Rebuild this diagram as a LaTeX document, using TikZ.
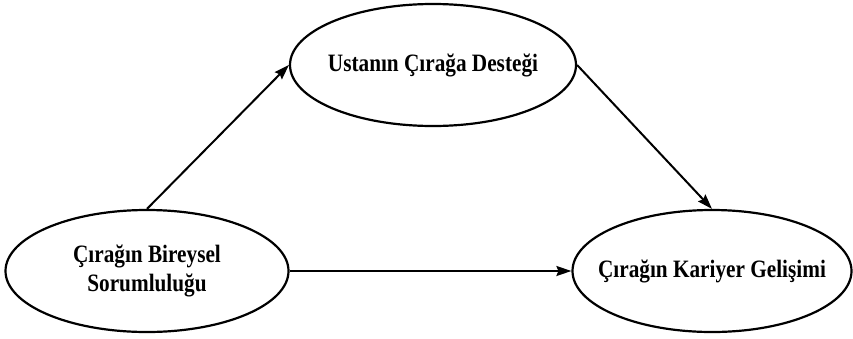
\documentclass[tikz,border=0pt]{standalone}
\usepackage{fontspec}
\setmainfont{Liberation Serif}[FakeStretch=0.85]
\usetikzlibrary{shapes.geometric,arrows.meta}
\begin{document}
\begin{tikzpicture}[x=1pt,y=-1pt,
  oval/.style={draw,line width=2.2pt,ellipse,minimum width=#1,minimum height=122pt,inner xsep=-40pt,inner ysep=0pt,
    font=\fontsize{25}{29}\selectfont\bfseries,align=center},
  conn/.style={line width=2pt,-{Stealth[length=15pt,width=10pt,inset=2pt]}}]
\useasboundingbox (0,0) rectangle (853,338);
\node[oval=286pt] (sup) at (433,65) {Ustanın Çırağa Desteği};
\node[oval=283pt] (res) at (147,271) {Çırağın Bireysel\\Sorumluluğu};
\node[oval=279pt] (car) at (712,271) {Çırağın Kariyer Gelişimi};
\draw[conn] (res.north) -- (sup.west);
\draw[conn] (sup.east) -- (car.north);
\draw[conn] (res.east) -- (car.west);
\end{tikzpicture}
\end{document}
